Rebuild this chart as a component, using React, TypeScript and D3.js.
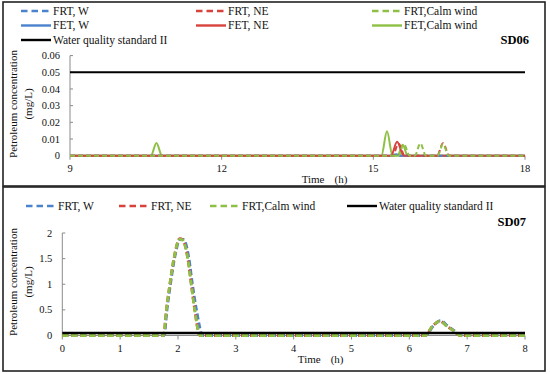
import React from "react";
import * as d3 from "d3";

// ---- data ----
const standardII = 0.05;

const sd06XTicks = [9, 12, 15, 18];
const sd06YTicks = [0, 0.01, 0.02, 0.03, 0.04, 0.05, 0.06];
const sd07XTicks = [0, 1, 2, 3, 4, 5, 6, 7, 8];
const sd07YTicks = [0, 0.5, 1, 1.5, 2];

// SD06 (time in h, concentration in mg/L)
const sd06FrtWTime = [9, 15.35, 15.45, 15.55, 18];
const sd06FrtWValue = [0, 0, 0.0006, 0, 0];
const sd06FetWTime = [9, 15.35, 15.45, 15.55, 18];
const sd06FetWValue = [0, 0, 0.0008, 0, 0];
const sd06FrtNeTime = [9, 15.38, 15.5, 15.62, 16.26, 16.38, 16.5, 18];
const sd06FrtNeValue = [0, 0, 0.0072, 0, 0, 0.0075, 0, 0];
const sd06FetNeTime = [9, 10.6, 10.8, 15.35, 15.47, 15.6, 18];
const sd06FetNeValue = [0, 0, 0, 0, 0.0084, 0, 0];
const sd06FrtCalmTime = [9, 15.5, 15.6, 15.72, 15.82, 15.93, 16.04, 16.27, 16.38, 16.49, 18];
const sd06FrtCalmValue = [0, 0, 0.0072, 0, 0, 0.0074, 0, 0, 0.007, 0, 0];
const sd06FetCalmTime = [9, 10.6, 10.71, 10.82, 15.16, 15.27, 15.38, 15.48, 15.58, 15.68, 18];
const sd06FetCalmValue = [0, 0, 0.0076, 0, 0, 0.0146, 0, 0, 0.0066, 0, 0];

// SD07
const sd07FrtWTime = [0, 1.76, 1.81, 1.87, 1.94, 2.04, 2.1, 2.19, 2.25, 2.32, 2.43, 6.28, 6.41, 6.54, 6.66, 6.77, 6.9, 8];
const sd07FrtWValue = [0, 0, 0.5, 1, 1.5, 1.88, 1.87, 1.5, 1, 0.5, 0, 0, 0.18, 0.29, 0.19, 0.1, 0, 0];
const sd07FrtNeTime = [0, 1.75, 1.8, 1.86, 1.93, 2.03, 2.08, 2.17, 2.23, 2.29, 2.38, 6.27, 6.4, 6.53, 6.65, 6.76, 6.88, 8];
const sd07FrtNeValue = [0, 0, 0.5, 1, 1.5, 1.89, 1.87, 1.5, 1, 0.5, 0, 0, 0.18, 0.28, 0.18, 0.1, 0, 0];
const sd07FrtCalmTime = [0, 1.75, 1.8, 1.86, 1.93, 2.03, 2.08, 2.17, 2.23, 2.29, 2.38, 6.27, 6.4, 6.53, 6.65, 6.76, 6.88, 8];
const sd07FrtCalmValue = [0, 0, 0.5, 1, 1.5, 1.88, 1.86, 1.5, 1, 0.5, 0, 0, 0.18, 0.28, 0.18, 0.1, 0, 0];

const BLUE = "#4a82cc";
const RED = "#d8423c";
const GREEN = "#8fc046";
const FONT = "Liberation Serif, DejaVu Serif, Times New Roman, serif";

type Series = {
  name: string;
  color: string;
  dashed: boolean;
  time: number[];
  value: number[];
};

const sd06Series: Series[] = [
  { name: "FET, W", color: BLUE, dashed: false, time: sd06FetWTime, value: sd06FetWValue },
  { name: "FET,Calm wind", color: GREEN, dashed: false, time: sd06FetCalmTime, value: sd06FetCalmValue },
  { name: "FET, NE", color: RED, dashed: false, time: sd06FetNeTime, value: sd06FetNeValue },
  { name: "FRT, W", color: BLUE, dashed: true, time: sd06FrtWTime, value: sd06FrtWValue },
  { name: "FRT, NE", color: RED, dashed: true, time: sd06FrtNeTime, value: sd06FrtNeValue },
  { name: "FRT,Calm wind", color: GREEN, dashed: true, time: sd06FrtCalmTime, value: sd06FrtCalmValue },
];

const sd07Series: Series[] = [
  { name: "FRT, W", color: BLUE, dashed: true, time: sd07FrtWTime, value: sd07FrtWValue },
  { name: "FRT, NE", color: RED, dashed: true, time: sd07FrtNeTime, value: sd07FrtNeValue },
  { name: "FRT,Calm wind", color: GREEN, dashed: true, time: sd07FrtCalmTime, value: sd07FrtCalmValue },
];

type LegendItem = { label: string; color: string; dashed: boolean; x: number; y: number };

const sd06Legend: LegendItem[] = [
  { label: "FRT, W", color: BLUE, dashed: true, x: 21, y: 11 },
  { label: "FRT, NE", color: RED, dashed: true, x: 196, y: 11 },
  { label: "FRT,Calm wind", color: GREEN, dashed: true, x: 372, y: 11 },
  { label: "FET, W", color: BLUE, dashed: false, x: 21, y: 25.5 },
  { label: "FET, NE", color: RED, dashed: false, x: 196, y: 25.5 },
  { label: "FET,Calm wind", color: GREEN, dashed: false, x: 372, y: 25.5 },
  { label: "Water quality standard II", color: "#000", dashed: false, x: 21, y: 40 },
];

const sd07Legend: LegendItem[] = [
  { label: "FRT, W", color: BLUE, dashed: true, x: 26, y: 206 },
  { label: "FRT, NE", color: RED, dashed: true, x: 119, y: 206 },
  { label: "FRT,Calm wind", color: GREEN, dashed: true, x: 210, y: 206 },
  { label: "Water quality standard II", color: "#000", dashed: false, x: 347, y: 206 },
];

type PanelProps = {
  frame: { x: number; y: number; w: number; h: number };
  plot: { left: number; right: number; top: number; bottom: number };
  xDomain: [number, number];
  yDomain: [number, number];
  xTicks: number[];
  yTicks: number[];
  yFormat: (v: number) => string;
  series: Series[];
  legend: LegendItem[];
  title: string;
  titlePos: { x: number; y: number };
  yLabelY: number;
  dash: string;
  lineWidth: number;
  stdWidth: number;
};

const txt = (size: number, bold = false): React.CSSProperties => ({
  fontFamily: FONT,
  fontSize: size,
  fontWeight: bold ? "bold" : "normal",
});

function Panel(p: PanelProps) {
  const x = d3.scaleLinear().domain(p.xDomain).range([p.plot.left, p.plot.right]);
  const y = d3.scaleLinear().domain(p.yDomain).range([p.plot.bottom, p.plot.top]);
  const line = (s: Series) =>
    d3
      .line<number>()
      .x((_, i) => x(s.time[i]))
      .y((v) => y(v))
      .curve(d3.curveMonotoneX)(s.value) || "";
  const y0 = y(0);
  const midX = p.plot.left + (p.plot.right - p.plot.left) / 2;

  return (
    <g>
      <rect x={p.frame.x} y={p.frame.y} width={p.frame.w} height={p.frame.h} fill="#fff" stroke="#222" strokeWidth={1.6} />

      {/* legend */}
      {p.legend.map((l) => (
        <g key={l.label}>
          <line
            x1={l.x}
            x2={l.x + 30}
            y1={l.y}
            y2={l.y}
            stroke={l.color}
            strokeWidth={2.4}
            strokeDasharray={l.dashed ? "6.5,4" : undefined}
          />
          <text x={l.x + 32} y={l.y + 3.9} style={txt(11.5)} fill="#111">
            {l.label}
          </text>
        </g>
      ))}
      <text x={p.titlePos.x} y={p.titlePos.y} style={txt(12.5, true)} textAnchor="end" fill="#000">
        {p.title}
      </text>

      {/* axes */}
      <line x1={p.plot.left} x2={p.plot.left} y1={p.plot.top} y2={y0} stroke="#8a8a8a" strokeWidth={1} />
      <line x1={p.plot.left} x2={p.plot.right} y1={y0} y2={y0} stroke="#8a8a8a" strokeWidth={1} />
      {p.yTicks.map((t) => (
        <g key={"y" + t}>
          <line x1={p.plot.left} x2={p.plot.left + 3} y1={y(t)} y2={y(t)} stroke="#8a8a8a" />
          <text x={p.plot.left - 10} y={y(t) + 3.6} style={txt(10.5)} textAnchor="end" fill="#111">
            {p.yFormat(t)}
          </text>
        </g>
      ))}
      {p.xTicks.map((t) => (
        <g key={"x" + t}>
          <line x1={x(t)} x2={x(t)} y1={y0} y2={y0 + 4} stroke="#8a8a8a" />
          <text x={x(t)} y={y0 + 16} style={txt(10.5)} textAnchor="middle" fill="#111">
            {t}
          </text>
        </g>
      ))}

      {/* axis titles */}
      <text x={midX + 27} y={y0 + 27} style={txt(11)} textAnchor="end" fill="#111">
        Time
      </text>
      <text x={midX + 37} y={y0 + 27} style={txt(11)} fill="#111">
        (h)
      </text>
      <text transform={`translate(17,${p.yLabelY}) rotate(-90)`} style={txt(11)} textAnchor="middle" fill="#111">
        Petroleum concentration
      </text>
      <text transform={`translate(32,${p.yLabelY}) rotate(-90)`} style={txt(11)} textAnchor="middle" fill="#111">
        (mg/L)
      </text>

      {/* series */}
      {p.series.map((s) => (
        <path
          key={s.name}
          d={line(s)}
          fill="none"
          stroke={s.color}
          strokeWidth={p.lineWidth}
          strokeDasharray={s.dashed ? p.dash : undefined}
          strokeLinejoin="round"
        />
      ))}

      {/* water quality standard II */}
      <line
        x1={x(p.xDomain[0])}
        x2={x(p.xDomain[1])}
        y1={y(standardII)}
        y2={y(standardII)}
        stroke="#000"
        strokeWidth={p.stdWidth}
      />
    </g>
  );
}

export default function App() {
  return (
    <svg width={550} height={374} style={{ position: "absolute", left: 0, top: 0, background: "#fff" }}>
      <Panel
        frame={{ x: 3, y: 2, w: 542, h: 184 }}
        plot={{ left: 70, right: 525, top: 55.6, bottom: 155.7 }}
        xDomain={[9, 18]}
        yDomain={[0, 0.06]}
        xTicks={sd06XTicks}
        yTicks={sd06YTicks}
        yFormat={(v) => (v === 0 ? "0" : d3.format(".2f")(v))}
        series={sd06Series}
        legend={sd06Legend}
        title="SD06"
        titlePos={{ x: 529, y: 44 }}
        yLabelY={104}
        dash="5,3"
        lineWidth={2}
        stdWidth={2}
      />
      <Panel
        frame={{ x: 3, y: 187, w: 542, h: 184 }}
        plot={{ left: 62.3, right: 525, top: 233, bottom: 335.5 }}
        xDomain={[0, 8]}
        yDomain={[0, 2]}
        xTicks={sd07XTicks}
        yTicks={sd07YTicks}
        yFormat={(v) => String(v)}
        series={sd07Series}
        legend={sd07Legend}
        title="SD07"
        titlePos={{ x: 526, y: 226 }}
        yLabelY={282}
        dash="6,3"
        lineWidth={2.8}
        stdWidth={2.4}
      />
    </svg>
  );
}
